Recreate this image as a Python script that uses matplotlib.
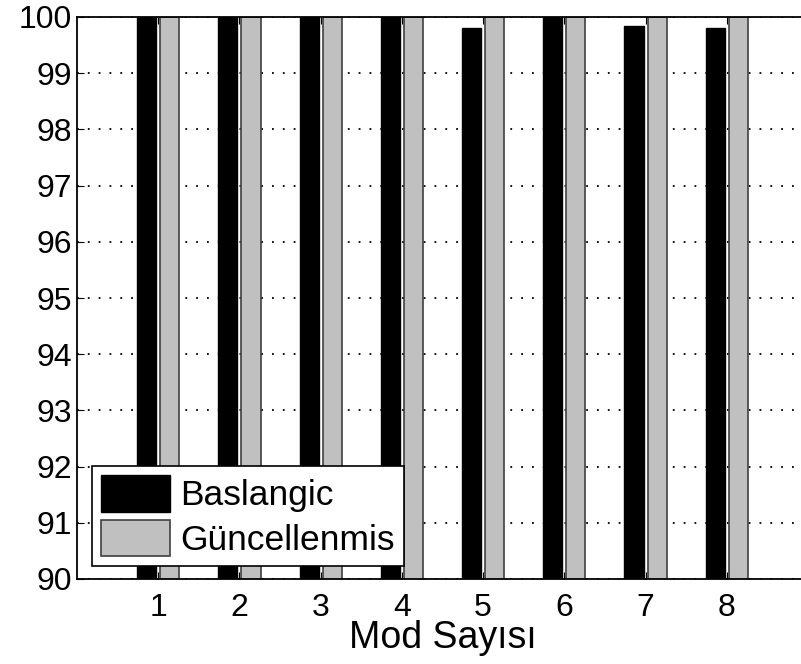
import matplotlib.pyplot as plt
import numpy as np

# data
modes = [1, 2, 3, 4, 5, 6, 7, 8]
baslangic = [100, 100, 100, 100, 99.8, 100, 99.84, 99.81]
guncellenmis = [100, 100, 100, 100, 100, 100, 100, 100]

plt.rcParams['font.family'] = ['Liberation Sans', 'DejaVu Sans']

fig = plt.figure(figsize=(8.01, 6.64), dpi=100)
# axes runs past the right edge of the picture, like the reference
ax = fig.add_axes([77/801, 1 - 579/664, 731/801, 562/664])

x = np.array(modes)
w = 0.235
ax.bar(x - 0.142, baslangic, w, color='black', edgecolor='black', linewidth=1,
       label='Baslangic', zorder=2)
ax.bar(x + 0.142, guncellenmis, w, color='#c0c0c0', edgecolor='#404040', linewidth=1.2,
       label='Güncellenmis', zorder=2)

ax.set_xlim(0, 9)
ax.set_ylim(90, 100)
ax.set_xticks(modes)
ax.set_yticks(range(90, 101))
ax.yaxis.grid(True, color='black', linestyle=(0, (1, 5)), linewidth=1.3, zorder=1)
ax.set_axisbelow(True)
ax.tick_params(direction='in', length=5, labelsize=23, top=True, right=False)
ax.tick_params(axis='x', pad=10)
ax.set_xlabel('Mod Sayısı', fontsize=27, labelpad=-2)
for s in ax.spines.values():
    s.set_linewidth(1.3)

leg = ax.legend(loc='lower left', bbox_to_anchor=(0.0205, 0.023), fontsize=25.5,
                frameon=True, fancybox=False, edgecolor='black', framealpha=1,
                handlelength=1.95, handleheight=1.2, labelspacing=0.22,
                borderpad=0.25, handletextpad=0.3, borderaxespad=0)
leg.get_frame().set_linewidth(1.2)
leg.set_zorder(5)

fig.savefig('out.png', dpi=100)
